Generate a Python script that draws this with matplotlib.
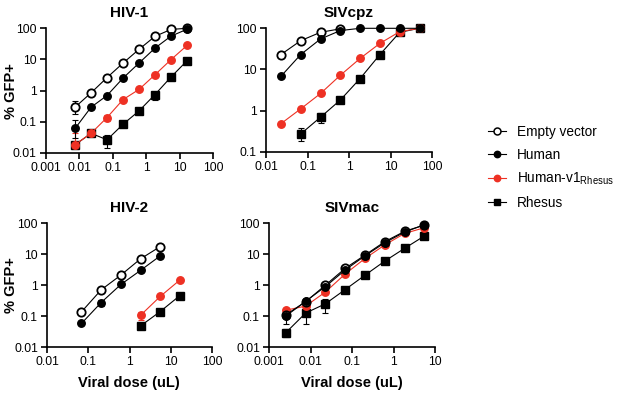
import matplotlib
matplotlib.use("Agg")
import matplotlib.pyplot as plt
from matplotlib.lines import Line2D
from matplotlib.ticker import FixedLocator, FixedFormatter, NullLocator

plt.rcParams['font.family'] = ['Liberation Sans', 'DejaVu Sans']
plt.rcParams['mathtext.fontset'] = 'custom'
plt.rcParams['mathtext.rm'] = 'Liberation Sans'

# ---------------- data ----------------
series_names = ["Empty vector", "Human", "Human-v1$_{\\mathrm{Rhesus}}$", "Rhesus"]

# HIV-1
hiv1_dose = [0.00762, 0.0229, 0.0686, 0.206, 0.617, 1.85, 5.56, 16.7]
hiv1_empty = [0.29, 0.84, 2.6, 7.6, 21, 55, 92, 100]
hiv1_human = [0.06, 0.29, 0.69, 2.5, 7.6, 23, 56, 93]
hiv1_v1 = [0.018, 0.042, 0.135, 0.51, 1.08, 3.2, 9.8, 28]
hiv1_rhesus = [0.018, 0.042, 0.026, 0.082, 0.22, 0.74, 2.7, 9.0]
hiv1_empty_err = [[0.12, 0, 0, 0, 0, 0, 0, 0], [0.17, 0, 0, 0, 0, 0, 0, 0]]
hiv1_human_err = [[0.03, 0, 0, 0, 0, 0, 0, 0], [0.05, 0, 0, 0, 0, 0, 0, 0]]
hiv1_v1_err = [[0.0, 0, 0.03, 0, 0, 0, 0, 0], [0.026, 0, 0.03, 0, 0, 0, 0, 0]]
hiv1_rhesus_err = [[0, 0, 0.012, 0, 0, 0.25, 0, 0], [0, 0, 0.012, 0, 0, 0.15, 0, 0]]

# SIVcpz
cpz_dose = [0.0229, 0.0686, 0.206, 0.617, 1.85, 5.56, 16.7, 50]
cpz_empty = [23, 50, 80, 97]
cpz_human = [6.8, 23, 55, 88, 100, 100, 100, 100]
cpz_v1 = [0.48, 1.1, 2.6, 7.2, 18.5, 43, 83, 100]
cpz_rhesus_dose = [0.0686, 0.206, 0.617, 1.85, 5.56, 16.7, 50]
cpz_rhesus = [0.27, 0.69, 1.8, 6.0, 23, 80, 100]
cpz_rhesus_err = [[0.09, 0.2, 0, 0, 0, 0, 0], [0.1, 0.18, 0, 0, 0, 0, 0]]

# HIV-2
hiv2_dose = [0.0686, 0.206, 0.617, 1.85, 5.56]
hiv2_empty = [0.14, 0.72, 2.15, 7.2, 18]
hiv2_human = [0.059, 0.28, 1.07, 3.05, 9.0]
hiv2_human_err = [[0.008, 0.07, 0, 0, 0], [0.008, 0.07, 0, 0, 0]]
hiv2_rh_dose = [1.85, 5.56, 16.7]
hiv2_v1 = [0.108, 0.44, 1.5]
hiv2_v1_err = [[0.03, 0, 0], [0.035, 0, 0]]
hiv2_rhesus = [0.049, 0.143, 0.47]

# SIVmac
mac_dose = [0.00254, 0.00762, 0.0229, 0.0686, 0.206, 0.617, 1.85, 5.56]
mac_empty = [0.11, 0.29, 1.0, 3.5, 9.4, 25.5, 55, 88]
mac_human = [0.10, 0.30, 0.9, 3.1, 8.9, 23.5, 52, 90]
mac_v1 = [0.155, 0.21, 0.6, 2.3, 7.3, 20, 47, 72]
mac_rhesus = [0.029, 0.125, 0.25, 0.72, 2.1, 6.0, 15.5, 39]
mac_human_err = [[0.045, 0, 0, 0, 0, 0, 0, 0], [0.02, 0, 0, 0, 0, 0, 0, 0]]
mac_v1_err = [[0.025, 0, 0, 0, 0, 0, 0, 0], [0.03, 0, 0, 0, 0, 0, 0, 0]]
mac_rhesus_err = [[0.008, 0.07, 0.12, 0, 0, 0, 0, 0], [0.008, 0.16, 0.12, 0, 0, 0, 0, 0]]

tick_vals = [0.001, 0.01, 0.1, 1, 10, 100]
tick_labels = ["0.001", "0.01", "0.1", "1", "10", "100"]

titles = ["HIV-1", "SIVcpz", "HIV-2", "SIVmac"]
ylabel = "% GFP+"
xlabel = "Viral dose (uL)"

# ---------------- styling ----------------
RED = '#EE3124'
BLACK = 'black'
W, H = 617, 395
fig = plt.figure(figsize=(W / 100, H / 100), dpi=100)


def make_ax(x0, x1, ytop, ybot):
    return fig.add_axes([x0 / W, 1 - ybot / H, (x1 - x0) / W, (ybot - ytop) / H])


def style(ax, xlim, ylim, title):
    ax.set_xscale('log')
    ax.set_yscale('log')
    ax.set_xlim(*xlim)
    ax.set_ylim(*ylim)
    for s in ['top', 'right']:
        ax.spines[s].set_visible(False)
    for s in ['left', 'bottom']:
        ax.spines[s].set_linewidth(1.2)
    xt = [v for v in tick_vals if xlim[0] * 0.999 <= v <= xlim[1] * 1.001]
    yt = [v for v in tick_vals if ylim[0] * 0.999 <= v <= ylim[1] * 1.001]
    ax.xaxis.set_major_locator(FixedLocator(xt))
    ax.xaxis.set_major_formatter(FixedFormatter([tick_labels[tick_vals.index(v)] for v in xt]))
    ax.yaxis.set_major_locator(FixedLocator(yt))
    ax.yaxis.set_major_formatter(FixedFormatter([tick_labels[tick_vals.index(v)] for v in yt]))
    ax.xaxis.set_minor_locator(NullLocator())
    ax.yaxis.set_minor_locator(NullLocator())
    ax.tick_params(axis='both', which='major', labelsize=8.7, length=4, width=1.2, pad=2.5)
    ax.set_title(title, fontsize=11, fontweight='bold', pad=8)
    for sp in ax.spines.values():
        sp.set_clip_on(False)


def plot_series(ax, x, y, kind, err=None):
    if kind == 'empty':
        kw = dict(color=BLACK, marker='o', ms=6.0, mfc='white', mec=BLACK, mew=1.3, zorder=4)
    elif kind == 'human':
        kw = dict(color=BLACK, marker='o', ms=5.4, mfc=BLACK, mec=BLACK, zorder=5)
    elif kind == 'v1':
        kw = dict(color=RED, marker='o', ms=5.4, mfc=RED, mec=RED, zorder=3)
    else:
        kw = dict(color=BLACK, marker='s', ms=5.2, mfc=BLACK, mec=BLACK, zorder=2)
    ax.plot(x, y, lw=0.8, clip_on=False, **kw)
    if err is not None:
        ax.errorbar(x, y, yerr=err, fmt='none', ecolor=kw['color'], elinewidth=0.8,
                    capsize=2.5, capthick=0.8, zorder=kw['zorder'] - 0.5, clip_on=False)


def set_ylab(ax, ycenter_px):
    ax.set_ylabel(ylabel, fontsize=10.5, fontweight='bold')
    ax.yaxis.set_label_coords(11 / W, 1 - ycenter_px / H, transform=fig.transFigure)
    ax.yaxis.label.set_va('center')


def set_xlab(ax, xcenter_px):
    ax.set_xlabel(xlabel, fontsize=10.5, fontweight='bold')
    ax.xaxis.set_label_coords(xcenter_px / W, 1 - 383 / H, transform=fig.transFigure)
    ax.xaxis.label.set_va('center')


# HIV-1
ax1 = make_ax(45.5, 213, 28.3, 152.7)
style(ax1, (0.001, 100), (0.01, 100), titles[0])
plot_series(ax1, hiv1_dose, hiv1_rhesus, 'rhesus', hiv1_rhesus_err)
plot_series(ax1, hiv1_dose, hiv1_v1, 'v1', hiv1_v1_err)
plot_series(ax1, hiv1_dose, hiv1_empty, 'empty', hiv1_empty_err)
plot_series(ax1, hiv1_dose, hiv1_human, 'human', hiv1_human_err)
set_ylab(ax1, 91)

# SIVcpz
ax2 = make_ax(266, 432, 28.3, 151.7)
style(ax2, (0.01, 100), (0.1, 100), titles[1])
plot_series(ax2, cpz_rhesus_dose, cpz_rhesus, 'rhesus', cpz_rhesus_err)
plot_series(ax2, cpz_dose, cpz_v1, 'v1')
plot_series(ax2, cpz_dose[:len(cpz_empty)], cpz_empty, 'empty')
plot_series(ax2, cpz_dose, cpz_human, 'human')

# HIV-2
ax3 = make_ax(47, 212, 223.5, 347.3)
style(ax3, (0.01, 100), (0.01, 100), titles[2])
plot_series(ax3, hiv2_rh_dose, hiv2_rhesus, 'rhesus')
plot_series(ax3, hiv2_rh_dose, hiv2_v1, 'v1', hiv2_v1_err)
plot_series(ax3, hiv2_dose, hiv2_empty, 'empty')
plot_series(ax3, hiv2_dose, hiv2_human, 'human', hiv2_human_err)
set_ylab(ax3, 285)
set_xlab(ax3, 129)

# SIVmac
ax4 = make_ax(269, 435, 223.3, 347)
style(ax4, (0.001, 10), (0.01, 100), titles[3])
plot_series(ax4, mac_dose, mac_rhesus, 'rhesus', mac_rhesus_err)
plot_series(ax4, mac_dose, mac_v1, 'v1', mac_v1_err)
plot_series(ax4, mac_dose, mac_human, 'human', mac_human_err)
plot_series(ax4, mac_dose, mac_empty, 'empty')
set_xlab(ax4, 352)

# legend
handles = [
    Line2D([], [], color=BLACK, lw=0.8, marker='o', ms=5.0, mfc='white', mec=BLACK, mew=1.1),
    Line2D([], [], color=BLACK, lw=0.8, marker='o', ms=4.6, mfc=BLACK, mec=BLACK),
    Line2D([], [], color=RED, lw=0.8, marker='o', ms=4.6, mfc=RED, mec=RED),
    Line2D([], [], color=BLACK, lw=0.8, marker='s', ms=4.4, mfc=BLACK, mec=BLACK),
]
fig.legend(handles, series_names, loc='upper left', bbox_to_anchor=(488 / W, 1 - 125 / H),
           frameon=False, fontsize=9.8, handlelength=1.35, handletextpad=0.75,
           labelspacing=0.64, borderpad=0, borderaxespad=0)

fig.savefig('out.png', dpi=100)
